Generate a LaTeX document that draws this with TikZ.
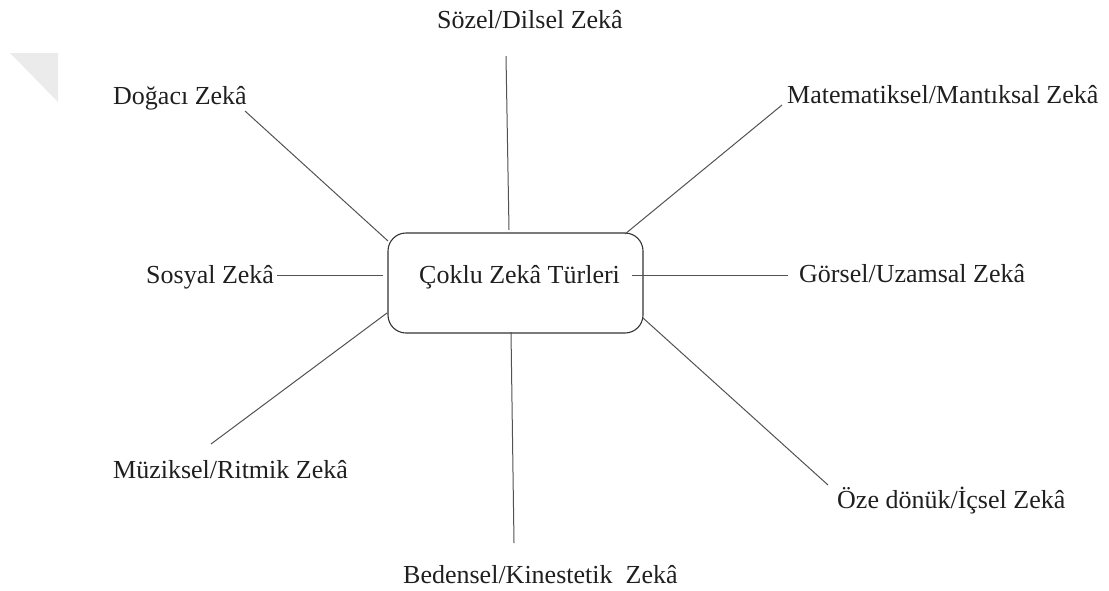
\documentclass[tikz,border=0pt]{standalone}
\usepackage{fontspec}
\setmainfont{Liberation Serif}
\begin{document}
\begin{tikzpicture}[x=1pt,y=-1pt,
  lbl/.style={anchor=base west,inner sep=0pt,text=black!88,font=\fontsize{26}{31}\selectfont},
  conn/.style={draw=black!68,line width=1pt},
  centerbox/.style={draw=black!80,line width=1.1pt,rounded corners=18pt,minimum width=255pt,minimum height=100pt,inner sep=0pt}]
\useasboundingbox (0,0) rectangle (1109,590);
\fill[black!8] (10,53) -- (58,53) -- (58,102) -- cycle;
% centre
\node[centerbox] (box) at (515.5,283) {};
\node[lbl] (title) at (419,283) {Çoklu Zekâ Türleri};
% labels
\node[lbl] (soz) at (437,28) {Sözel/Dilsel Zekâ};
\node[lbl] (doga) at (113,104) {Doğacı Zekâ};
\node[lbl] (sos) at (146,283) {Sosyal Zekâ};
\node[lbl] (mat) at (787,103) {Matematiksel/Mantıksal Zekâ};
\node[lbl] (gor) at (799,282) {Görsel/Uzamsal Zekâ};
\node[lbl] (muz) at (113,478) {Müziksel/Ritmik Zekâ};
\node[lbl] (bed) at (403,583) {Bedensel/Kinestetik~ Zekâ};
\node[lbl] (oze) at (837,508) {Öze dönük/İçsel Zekâ};
% connector ends
\coordinate (sozA) at (506,56);   \coordinate (sozB) at (509,230);
\coordinate (dogaA) at (245,111); \coordinate (dogaB) at (388,241);
\coordinate (sosA) at (277,275);  \coordinate (sosB) at (383,275);
\coordinate (matA) at (782,105);  \coordinate (matB) at (625,234);
\coordinate (gorA) at (788,275);  \coordinate (gorB) at (632,275);
\coordinate (muzA) at (211,444);  \coordinate (muzB) at (387,313);
\coordinate (bedA) at (514,543);  \coordinate (bedB) at (511,332);
\coordinate (ozeA) at (828,485);  \coordinate (ozeB) at (643,318);
\draw[conn] (sozA) -- (sozB);
\draw[conn] (dogaA) -- (dogaB);
\draw[conn] (sosA) -- (sosB);
\draw[conn] (matA) -- (matB);
\draw[conn] (gorA) -- (gorB);
\draw[conn] (muzA) -- (muzB);
\draw[conn] (bedA) -- (bedB);
\draw[conn] (ozeA) -- (ozeB);
\end{tikzpicture}
\end{document}
